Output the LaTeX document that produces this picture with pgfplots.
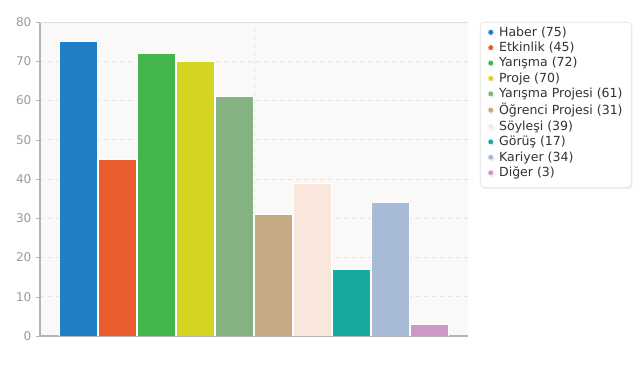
\documentclass[border=0pt]{standalone}
\usepackage{pgfplots}
\pgfplotsset{compat=1.18}
\usepackage{fontspec}
\setmainfont{DejaVu Sans}
\usetikzlibrary{shadows}
\definecolor{c1}{HTML}{1F7FC4}
\definecolor{c2}{HTML}{E85C2E}
\definecolor{c3}{HTML}{42B649}
\definecolor{c4}{HTML}{D4D423}
\definecolor{c5}{HTML}{84B381}
\definecolor{c6}{HTML}{C6A882}
\definecolor{c7}{HTML}{F9E6DD}
\definecolor{c8}{HTML}{18A9A0}
\definecolor{c9}{HTML}{A7BBD7}
\definecolor{c10}{HTML}{CF96C8}
\definecolor{axisgray}{HTML}{B4B4B4}
\definecolor{tickgray}{HTML}{9A9A9A}
\definecolor{gridgray}{HTML}{E2E2E2}
\definecolor{bordergray}{HTML}{E0E0E0}
\definecolor{bggray}{HTML}{FAF9F8}
\definecolor{legtext}{HTML}{333333}
\pgfplotsset{mybar/.style={fill=#1, draw=white, line width=0.3pt, bar shift=0pt}}
\begin{document}
\begin{tikzpicture}
\path[use as bounding box] (0,0) rectangle (480pt,288.75pt);
\begin{axis}[at={(30pt,36.75pt)}, anchor=south west, scale only axis,
  width=321pt, height=235.5pt,
  ymin=0, ymax=80, xmin=-0.99, xmax=9.99,
  ybar, bar width=0.97,
  axis x line*=bottom, axis y line*=left,
  axis line style={draw=axisgray, line width=0.8pt},
  ytick={0,10,...,80}, xtick=\empty,
  tick align=outside, major tick length=3pt, tick style={draw=axisgray},
  y axis line style={-}, x axis line style={-},
  yticklabel style={font=\fontsize{9}{10}\selectfont, text=tickgray},
  /pgf/number format/assume math mode=true,
  ymajorgrids, grid style={dashed, draw=gridgray, line width=0.5pt},
  extra x ticks={4.5}, extra x tick labels={},
  extra x tick style={xmajorgrids, major tick length=0pt},
  axis background/.style={fill=bggray},
  legend style={at={(1,1)}, xshift=9pt, anchor=north west,
    draw=bordergray, rounded corners=3pt, fill=white,
    font=\fontsize{9.4}{10}\selectfont, text=legtext,
    drop shadow={opacity=0.12, shadow xshift=1pt, shadow yshift=-1pt},
    inner xsep=4.5pt, inner ysep=1.2pt, row sep=-1.1pt},
  legend cell align=left,
  legend image code/.code={\fill[#1] (1pt,-2.4pt) rectangle (5.8pt,2.4pt); \path (7.5pt,0);},
]
\addplot[mybar=c1] coordinates {(0,75)}; \addlegendentry{Haber (75)}
\addplot[mybar=c2] coordinates {(1,45)}; \addlegendentry{Etkinlik (45)}
\addplot[mybar=c3] coordinates {(2,72)}; \addlegendentry{Yarışma (72)}
\addplot[mybar=c4] coordinates {(3,70)}; \addlegendentry{Proje (70)}
\addplot[mybar=c5] coordinates {(4,61)}; \addlegendentry{Yarışma Projesi (61)}
\addplot[mybar=c6] coordinates {(5,31)}; \addlegendentry{Öğrenci Projesi (31)}
\addplot[mybar=c7] coordinates {(6,39)}; \addlegendentry{Söyleşi (39)}
\addplot[mybar=c8] coordinates {(7,17)}; \addlegendentry{Görüş (17)}
\addplot[mybar=c9] coordinates {(8,34)}; \addlegendentry{Kariyer (34)}
\addplot[mybar=c10] coordinates {(9,3)}; \addlegendentry{Diğer (3)}
\addlegendimage{empty legend}
\addlegendentry[font=\fontsize{3}{3}\selectfont, inner sep=0pt]{\rule{0pt}{3pt}}
\draw[bordergray, line width=0.6pt] (rel axis cs:0,1) -- (rel axis cs:1,1) -- (rel axis cs:1,0);
\end{axis}
\end{tikzpicture}
\end{document}
